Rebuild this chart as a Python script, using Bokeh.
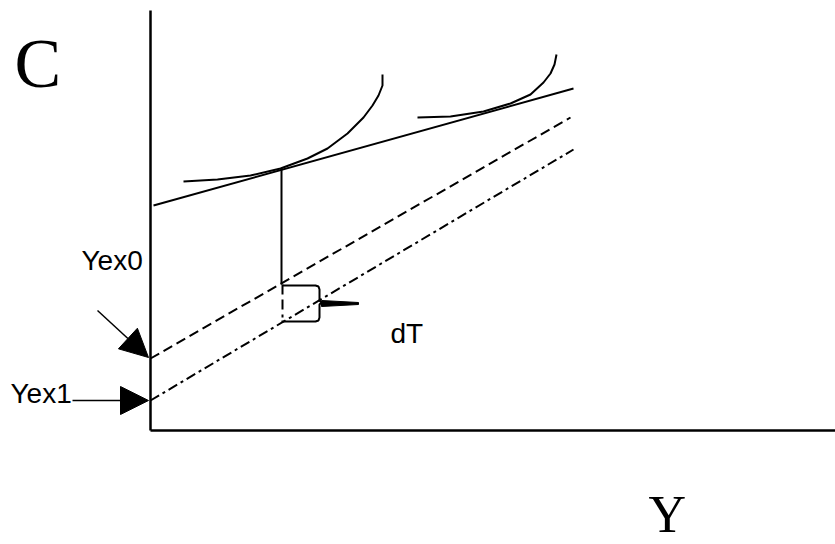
from bokeh.plotting import figure
from bokeh.models import Range1d, Arrow, NormalHead
from bokeh.core.properties import value
from bokeh.embed import file_html
from bokeh.resources import INLINE

# Diagram geometry (page pixel space, y grows downward)
axis_y_x = [150, 150]
axis_y_y = [10, 430]
axis_x_x = [150, 835]
axis_x_y = [430, 430]

budget_x = [153, 573]
budget_y = [205, 88]

yex0_x = [150, 570]
yex0_y = [358, 117]

yex1_x = [150, 573]
yex1_y = [400, 149]

ic1_x = [183, 217, 250, 280, 307, 327, 347, 363, 372, 378, 382, 382]
ic1_y = [181, 179, 175, 168, 158, 148, 133, 117, 105, 95, 85, 74]

ic2_x = [417, 450, 483, 510, 530, 543, 550, 554, 556]
ic2_y = [117, 116, 111, 103, 94, 82, 73, 64, 54]

drop_x = [281, 281]
drop_y = [168, 284]
drop2_x = [282, 282]
drop2_y = [284, 317]

bracket_x = [282, 315, 318, 319, 319, 321, 319, 319, 318, 315, 281]
bracket_y = [285, 285, 286, 289, 300, 302, 304, 317, 320, 321, 321]

pointer_x = [321, 358, 358, 321]
pointer_y = [300, 302, 304, 306]

labels = ["C", "Y", "Yex0", "Yex1", "dT"]

p = figure(width=835, height=544, output_backend="svg", toolbar_location=None,
           x_range=Range1d(0, 835), y_range=Range1d(544, 0),
           min_border=0, outline_line_color=None)
p.axis.visible = False
p.grid.visible = False

p.line(axis_y_x, axis_y_y, line_color="black", line_width=2.5)
p.line(axis_x_x, axis_x_y, line_color="black", line_width=2.5)
p.line(budget_x, budget_y, line_color="black", line_width=2)
p.line(yex0_x, yex0_y, line_color="black", line_width=2, line_dash="10 5")
p.line(yex1_x, yex1_y, line_color="black", line_width=2, line_dash="10 4 3 4")
p.line(ic1_x, ic1_y, line_color="black", line_width=2)
p.line(ic2_x, ic2_y, line_color="black", line_width=2)
p.line(drop_x, drop_y, line_color="black", line_width=2)
p.line(drop2_x, drop2_y, line_color="black", line_width=2, line_dash="10 5")
p.line(bracket_x, bracket_y, line_color="black", line_width=2)
p.patch(pointer_x, pointer_y, fill_color="black", line_color="black", line_width=1)

# arrows
p.add_layout(Arrow(end=NormalHead(size=28, fill_color="black", line_color="black"),
                   x_start=97, y_start=310, x_end=148, y_end=357,
                   line_color="black", line_width=1.5))
p.add_layout(Arrow(end=NormalHead(size=28, fill_color="black", line_color="black"),
                   x_start=72, y_start=400, x_end=148, y_end=400,
                   line_color="black", line_width=1.5))

p.text(x=[14], y=[63], text=[labels[0]], text_font=value("Liberation Serif"),
       text_font_size="70px", text_color="black", text_baseline="alphabetic")
p.text(x=[648], y=[514], text=[labels[1]], text_font=value("Liberation Serif"),
       text_font_size="52px", text_color="black", text_baseline="alphabetic")
p.text(x=[81, 10, 390], y=[260, 393, 333], text=labels[2:],
       text_font=value("Liberation Sans"), text_font_size="28px",
       text_color="black", text_baseline="alphabetic")

open("out.html", "w").write(file_html(p, INLINE))
